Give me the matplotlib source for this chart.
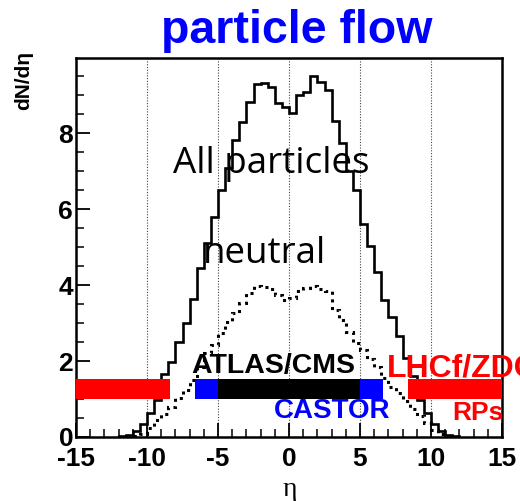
import numpy as np
import matplotlib
matplotlib.use("Agg")
import matplotlib.pyplot as plt
from matplotlib.ticker import MultipleLocator

plt.rcParams['axes.unicode_minus'] = False

# ---- data ----
bin_lo, bin_hi, bin_w = -12.0, 12.0, 0.5
all_particles = [0.02, 0.06, 0.17, 0.34, 0.63, 0.98, 1.66, 1.98, 2.5, 3.0, 3.63, 4.45,
                 5.1, 5.8, 6.5, 7.07, 7.82, 8.3, 8.83, 9.29, 9.32, 9.2, 8.8, 8.69,
                 8.53, 9.01, 9.09, 9.5, 9.35, 9.13, 8.32, 7.73, 7.01, 6.5, 5.6, 5.02,
                 4.35, 3.6, 3.15, 2.66, 2.09, 1.61, 0.97, 0.64, 0.34, 0.17, 0.05, 0.02]
neutral = [0.0, 0.01, 0.03, 0.08, 0.23, 0.45, 0.6, 0.8, 1.03, 1.24, 1.5, 1.85,
           2.2, 2.42, 2.73, 3.03, 3.26, 3.52, 3.78, 3.97, 3.95, 3.9, 3.74, 3.6,
           3.65, 3.85, 3.92, 3.97, 3.9, 3.85, 3.34, 3.08, 2.77, 2.47, 2.3, 2.05,
           1.85, 1.55, 1.32, 1.15, 0.95, 0.75, 0.55, 0.36, 0.18, 0.08, 0.03, 0.0]
det_left = [-15, -6.6, -5, 5, 8.4]
det_right = [-8.4, -5, 5, 6.6, 15]
det_colors = ['#ff0000', '#0000ff', '#000000', '#0000ff', '#ff0000']
det_ylo, det_yhi = 1.0, 1.52
xticks = [-15, -10, -5, 0, 5, 10, 15]
yticks = [0, 2, 4, 6, 8]

edges = np.linspace(bin_lo, bin_hi, len(all_particles) + 1)

W, H = 520, 501
fig = plt.figure(figsize=(W / 100, H / 100), dpi=100)
ax = fig.add_axes([76 / W, 1 - 437 / H, (502 - 76) / W, (437 - 58) / H])

ax.stairs(all_particles, edges, color='black', lw=1.9, zorder=3)
ax.stairs(neutral, edges, color='black', lw=2.2, linestyle=(0, (1, 1.5)), zorder=3)

widths = [r - l for l, r in zip(det_left, det_right)]
ax.barh([(det_ylo + det_yhi) / 2] * len(det_left), widths, left=det_left,
        height=det_yhi - det_ylo, color=det_colors, zorder=4)

ax.set_xlim(-15, 15)
ax.set_ylim(0, 9.975)
ax.set_xticks(xticks)
ax.set_yticks(yticks)
ax.xaxis.set_minor_locator(MultipleLocator(1))
ax.yaxis.set_minor_locator(MultipleLocator(0.5))
ax.tick_params(which='major', direction='in', length=10, width=1.3, top=False, right=False)
ax.tick_params(which='minor', direction='in', length=5.5, width=1.1, top=False, right=False)
ax.tick_params(axis='x', pad=7)
ax.tick_params(axis='y', pad=2)
for lab in ax.get_xticklabels() + ax.get_yticklabels():
    lab.set_fontfamily('Liberation Sans')
    lab.set_fontweight('bold')
    lab.set_fontsize(19)
for s in ax.spines.values():
    s.set_linewidth(1.8)
ax.xaxis.grid(True, linestyle=(0, (1, 1.5)), color='#444444', lw=0.8)
ax.set_axisbelow(True)

# texts
ax.text(-1.25, 6.94, 'All particles', ha='center', va='baseline', fontsize=26.5,
        family='Open Sans', color='black', zorder=6)
ax.text(-1.75, 4.57, 'neutral', ha='center', va='baseline', fontsize=26.5,
        family='Open Sans', color='black', zorder=6)
ax.text(-1.1, 1.68, 'ATLAS/CMS', ha='center', va='baseline', fontsize=20.5,
        family='Liberation Sans', weight='bold', color='black', zorder=6)
ax.text(3.05, 0.49, 'CASTOR', ha='center', va='baseline', fontsize=20,
        family='Liberation Sans', weight='bold', color='#0000ff', zorder=6, clip_on=False)
ax.text(6.9, 1.6, 'LHCf/ZDC', ha='left', va='baseline', fontsize=23,
        family='Liberation Sans', weight='bold', color='#ff0000', zorder=6, clip_on=False)
ax.text(13.3, 0.45, 'RPs', ha='center', va='baseline', fontsize=19,
        family='Liberation Sans', weight='bold', color='#ff0000', zorder=6, clip_on=False)

fig.text(297 / W, 1 - 43 / H, 'particle flow', ha='center', va='baseline', fontsize=33.5,
         family='Liberation Sans', weight='bold', color='#0000ff')
fig.text(24 / W, 1 - 80 / H, 'dN/dη', rotation=90, ha='center', va='center', fontsize=15,
         family='Liberation Sans', weight='bold')
fig.text(290 / W, 1 - 489 / H, 'η', ha='center', va='center', fontsize=20,
         family='Liberation Serif')

fig.savefig('out.png', dpi=100)
